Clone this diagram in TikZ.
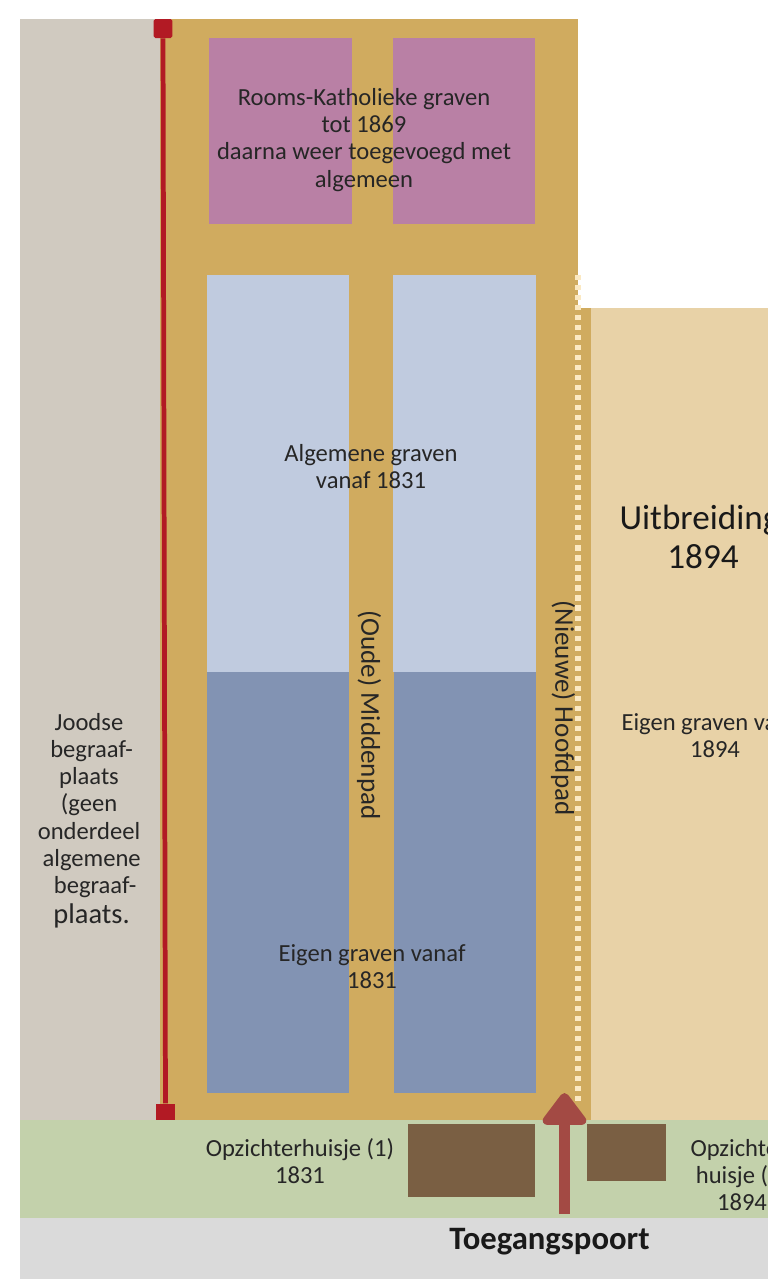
\documentclass[tikz,border=0pt]{standalone}
\usepackage{fontspec}
\setmainfont{Carlito}
\usetikzlibrary{arrows.meta}
\definecolor{joodsgrey}{HTML}{D0CAC0}
\definecolor{padgold}{HTML}{D0AB5F}
\definecolor{romepink}{HTML}{B980A5}
\definecolor{lightblue}{HTML}{C0CBDF}
\definecolor{darkblue}{HTML}{8293B3}
\definecolor{uitbreidcream}{HTML}{E8D2A7}
\definecolor{lawngreen}{HTML}{C3D1AB}
\definecolor{streetgrey}{HTML}{DADADA}
\definecolor{housebrown}{HTML}{7A5F43}
\definecolor{wallred}{HTML}{B21A24}
\definecolor{gatered}{HTML}{A34A44}
\definecolor{dotcream}{HTML}{FBE9C3}
\tikzset{
	lbl/.style={align=center, text=black!85, font=\fontsize{14}{15.4}\selectfont, inner sep=0pt},
	biglbl/.style={align=center, text=black!90, font=\fontsize{20}{22}\selectfont, inner sep=0pt},
	padlbl/.style={lbl, font=\fontsize{15.4}{17}\selectfont, rotate=-90},
	wallend/.style={fill=wallred, rounded corners=1pt, inner sep=0pt, minimum width=0.38cm, minimum height=0.38cm}
}
\begin{document}
\begin{tikzpicture}[x=0.02cm, y=-0.02cm]
		\useasboundingbox (0,0) rectangle (768,1279);
		
		% grounds
		\fill[joodsgrey] (20,19) rectangle (160,1120);
		\fill[padgold] (160,19) rectangle (578,1120);
		\fill[padgold] (578,308) rectangle (591,1120);
		\fill[uitbreidcream] (591,308) rectangle (768,1120);
		\fill[lawngreen] (20,1120) rectangle (768,1218);
		\fill[streetgrey] (20,1218) rectangle (768,1279);
		
		% grave fields
		\fill[romepink] (209,38) rectangle (352,224);
		\fill[romepink] (393,38) rectangle (535,224);
		\fill[lightblue] (207,275) rectangle (349,672);
		\fill[lightblue] (393,275) rectangle (536,672);
		\fill[darkblue] (207,672) rectangle (349,1093);
		\fill[darkblue] (394,672) rectangle (536,1093);
		
		% houses
		\fill[housebrown] (408,1124) rectangle (535,1197);
		\fill[housebrown] (587,1124) rectangle (666,1181);
		
		% old border, dotted
		\draw[dotcream, line width=2.9pt, dash pattern=on 2.9pt off 2.8pt] (578,275) -- (578,1106);
		
		% wall
		\node[wallend] (walltop) at (163,28.5) {};
		\node[wallend, minimum height=0.33cm, rounded corners=0pt] (wallbottom) at (165.5,1112) {};
		\draw[wallred, line width=2.7pt] (walltop) -- (wallbottom);
		
		% gate arrow
		\coordinate (gatefoot) at (564.5,1214);
		\coordinate (gatetip) at (564.5,1093);
		\draw[gatered, line width=6.2pt, -{Triangle[round, length=0.7cm, width=1cm]}] (gatefoot) -- (gatetip);
		
		% labels
		\node[lbl] (rklbl) at (364,140) {Rooms-Katholieke graven\\tot 1869\\daarna weer toegevoegd met\\algemeen};
		\node[lbl] (alglbl) at (371,467) {Algemene graven\\vanaf 1831};
		\node[lbl] (eigenlbl) at (372,967) {Eigen graven vanaf\\1831};
		\node[lbl] (joodslbl) at (89,821) {Joodse\\\hspace*{3pt}begraaf-\\plaats\\(geen\\onderdeel\\\hspace*{3pt}algemene\\\hspace*{7pt}begraaf-\\[2pt]\hspace*{3pt}{\fontsize{16.2}{17}\selectfont plaats.}};
		\node[padlbl] (middenlbl) at (369,715) {(Oude) Middenpad};
		\node[padlbl] (hoofdlbl) at (563,708) {(Nieuwe) Hoofdpad};
		\node[biglbl] (uitlbl) at (703,537) {Uitbreiding\hspace*{4pt}\\1894};
		\node[lbl] (eigen2lbl) at (715,736) {Eigen graven vanaf\\1894};
		\node[lbl] (huis1lbl) at (300,1161) {Opzichterhuisje (1)\\1831};
		\node[lbl] (huis2lbl) at (742,1175) {Opzichter-\\huisje (2)\\1894};
		\node[biglbl, font=\fontsize{18.6}{20}\selectfont\bfseries] (poortlbl) at (549.5,1241.5) {Toegangspoort};
		
		\end{tikzpicture}
\end{document}
